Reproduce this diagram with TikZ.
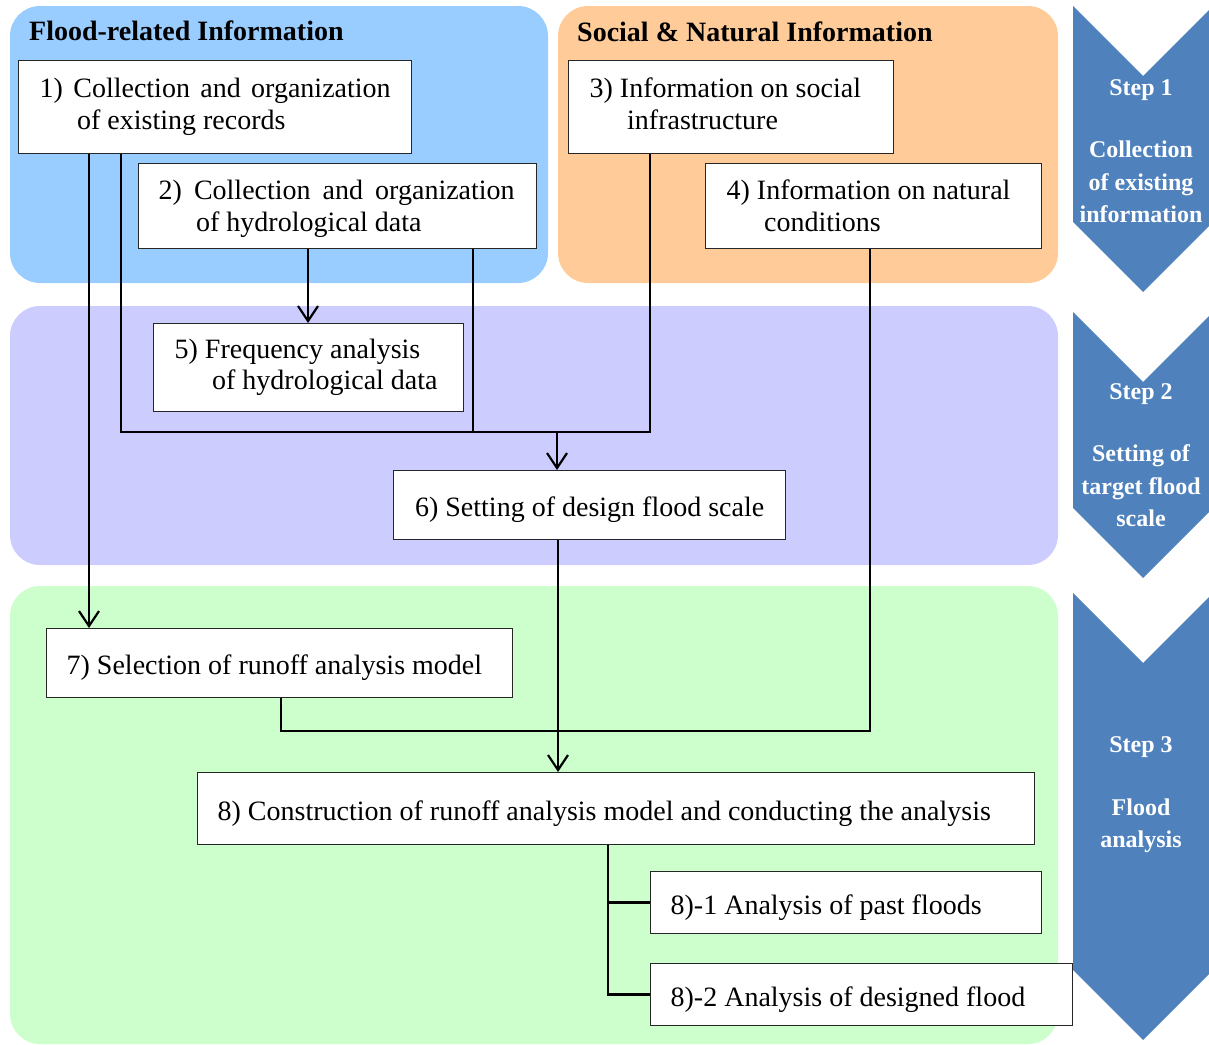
\documentclass[tikz,border=0pt]{standalone}
\usepackage{fontspec}
\setmainfont{Liberation Serif}
\usetikzlibrary{arrows.meta}

\definecolor{panelblue}{HTML}{99CCFF}
\definecolor{panelorange}{HTML}{FFCC99}
\definecolor{panelpurple}{HTML}{CCCCFF}
\definecolor{panelgreen}{HTML}{CCFFCC}
\definecolor{stepblue}{HTML}{4F81BD}

\newcommand{\boxfont}{\fontsize{28}{31.5}\selectfont}
\newcommand{\indentline}{\hspace*{37.5pt}}
% taller strut for the first line, pushes a two-line text slightly lower
\newcommand{\tallstrut}{\rule{0pt}{28pt}}
% use the font's own interword glue instead of the fixed ragged spacing
\newcommand{\naturalspaces}{\spaceskip=0pt\xspaceskip=0pt\relax}

\begin{document}
\begin{tikzpicture}[x=1pt,y=-1pt,
  panel/.style={rounded corners=30pt, draw=none},
  chevron/.style={fill=stepblue, draw=none},
  steptext/.style={text=white, font=\fontsize{24}{32.5}\selectfont\bfseries, align=center,
    execute at begin node=\naturalspaces},
  header/.style={font=\fontsize{28}{32}\selectfont\bfseries, anchor=west, inner sep=0pt},
  procbox/.style={draw=black!85, line width=1.3pt, fill=white, anchor=north west,
    align=left, font=\boxfont, inner ysep=0pt, execute at begin node=\naturalspaces},
  oneline/.style={procbox, text height=26pt, text depth=3pt},
  conn/.style={line width=2.4pt, line join=miter},
  arr/.style={conn, -{Straight Barb[length=15pt,width=20pt,line width=2.2pt]}},
]
\useasboundingbox (0,0) rectangle (1209,1044);

% coloured group panels
\fill[panel, panelblue]   (10,6)   rectangle (548,283);
\fill[panel, panelorange] (558,6)  rectangle (1058,283);
\fill[panel, panelpurple] (10,306) rectangle (1058,565);
\fill[panel, panelgreen]  (10,586) rectangle (1058,1044);

% step chevrons
\fill[chevron] (1073,6) -- (1143,76) -- (1213,6) -- (1213,222) -- (1143,292) -- (1073,222) -- cycle;
\fill[chevron] (1073,312) -- (1143,382) -- (1213,312) -- (1213,508) -- (1143,578) -- (1073,508) -- cycle;
\fill[chevron] (1073,593) -- (1143,663) -- (1213,593) -- (1213,970) -- (1143,1040) -- (1073,970) -- cycle;

\node[steptext] (s1) at (1141,151) {Step 1\\[30pt]Collection\\of existing\\information};
\node[steptext] (s2) at (1141,455) {Step 2\\[30pt]Setting of\\target flood\\scale};
\node[steptext] (s3) at (1141,795) {Step 3\\[30pt]Flood\\analysis};

% group headers
\node[header] (h1) at (29,31) {Flood-related Information};
\node[header] (h2) at (577,32) {Social \& Natural Information};

% process boxes
\node[procbox, minimum height=93pt, inner xsep=21pt, text width=351pt] (b1) at (18,60)
  {\makebox[351pt][s]{\strut 1) Collection and organization}\\\indentline of existing records\strut};
\node[procbox, minimum height=85pt, inner xsep=20pt, text width=358pt] (b2) at (138,163)
  {\makebox[356pt][s]{\tallstrut 2) Collection and organization}\\\indentline of hydrological data\strut};
\node[procbox, minimum height=93pt, inner xsep=21pt, text width=283pt] (b3) at (568,60)
  {\strut 3) Information on social\\\indentline infrastructure\strut};
\node[procbox, minimum height=85pt, inner xsep=21pt, text width=294pt] (b4) at (705,163)
  {\tallstrut 4) Information on natural\\\indentline conditions\strut};
\node[procbox, minimum height=88pt, inner xsep=21pt, text width=268pt] (b5) at (153,323)
  {\strut 5) Frequency analysis\\\indentline of hydrological data\strut};
\node[oneline, minimum height=69pt, minimum width=392pt, align=center] (b6) at (393,470)
  {6) Setting of design flood scale};
\node[oneline, minimum height=69pt, inner xsep=20pt, text width=426pt] (b7) at (46,628)
  {7) Selection of runoff analysis model};
\node[oneline, minimum height=72pt, inner xsep=20pt, text width=797pt] (b8) at (197,772)
  {8) Construction of runoff analysis model and conducting the analysis};
\node[oneline, minimum height=62pt, inner xsep=20pt, text width=351pt] (b81) at (650,871)
  {8)-1 Analysis of past floods};
\node[oneline, minimum height=62pt, inner xsep=20pt, text width=382pt] (b82) at (650,963)
  {8)-2 Analysis of designed flood};

% junction points of the connectors
\coordinate (xa) at (89,0);
\coordinate (xb) at (308,0);
\coordinate (jA) at (121,432);
\coordinate (jB) at (473,432);
\coordinate (jC) at (650,432);
\coordinate (jM) at (557,432);
\coordinate (kA) at (281,731);
\coordinate (kB) at (870,731);
\coordinate (xm) at (558,0);
\coordinate (xt) at (608,0);

% connectors
\draw[arr] (b1.south -| xa) -- (b7.north -| xa);
\draw[arr] (b2.south -| xb) -- (b5.north -| xb);
\draw[conn] (b1.south -| jA) -- (jA) -- (jC) -- (b3.south -| jC);
\draw[conn] (b2.south -| jB) -- (jB);
\draw[arr] (jM) -- (b6.north -| jM);
\draw[conn] (b7.south -| kA) -- (kA) -- (kB) -- (b4.south -| kB);
\draw[arr] (b6.south -| xm) -- (b8.north -| xm);
\draw[conn] (b8.south -| xt) -- (b82.west -| xt) -- (b82.west);
\draw[conn] (b81.west -| xt) -- (b81.west);
\end{tikzpicture}
\end{document}
